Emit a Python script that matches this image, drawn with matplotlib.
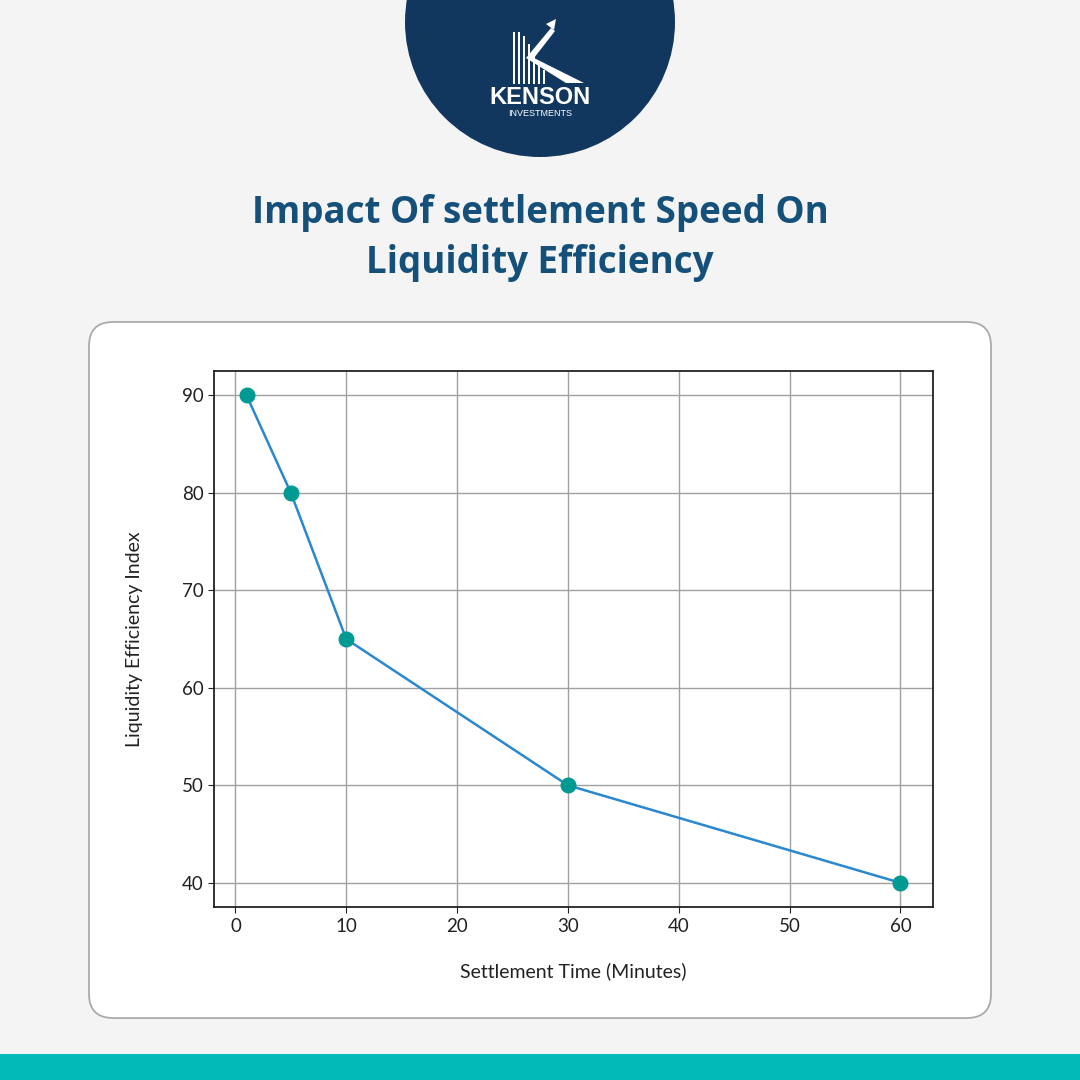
import numpy as np
import matplotlib.pyplot as plt
from matplotlib.patches import FancyBboxPatch, Circle, Rectangle, Polygon

settle_time = [1, 5, 10, 30, 60]
liquidity_index = [90, 80, 65, 50, 40]
x_ticks = [0, 10, 20, 30, 40, 50, 60]
y_ticks = [40, 50, 60, 70, 80, 90]

title_text = 'Impact Of settlement Speed On\nLiquidity Efficiency'
x_label = 'Settlement Time (Minutes)'
y_label = 'Liquidity Efficiency Index'

plt.rcParams['font.family'] = ['Lato', 'DejaVu Sans']

fig = plt.figure(figsize=(10.8, 10.8), dpi=100)
fig.patch.set_facecolor('#f4f4f4')

# background layer in pixel-like coords
bg = fig.add_axes([0, 0, 1, 1])
bg.set_xlim(0, 1080)
bg.set_ylim(1080, 0)
bg.axis('off')

# white card
card = FancyBboxPatch((89, 322), 902, 696, boxstyle='round,pad=0,rounding_size=24',
                      facecolor='white', edgecolor='#aaaaaa', linewidth=1.3)
bg.add_patch(card)

# teal strip at the bottom
bg.add_patch(Rectangle((0, 1054), 1080, 26, facecolor='#00bbb8', edgecolor='none'))

# logo circle
bg.add_patch(Circle((540, 22), 135, facecolor='#12375f', edgecolor='none'))
for i, h in enumerate([52, 52, 48, 40, 30, 22, 14]):
    bg.add_patch(Rectangle((513 + i * 5.0, 84 - h), 2.4, h, facecolor='white', edgecolor='none'))
bg.add_patch(Polygon([[526, 58], [551, 28], [555, 31], [534, 58], [584, 83], [566, 83]],
                     closed=True, facecolor='white', edgecolor='none'))
bg.add_patch(Polygon([[546, 24], [556, 19], [554, 30]], closed=True, facecolor='white', edgecolor='none'))
bg.text(540, 97, 'KENSON', color='white', fontsize=17, fontweight='bold',
        ha='center', va='center', family=['Liberation Sans', 'DejaVu Sans'])
bg.text(540, 113, 'INVESTMENTS', color='white', fontsize=6.5,
        ha='center', va='center', family=['Liberation Sans', 'DejaVu Sans'])

# title
bg.text(540, 238, title_text, color='#15507a', fontsize=26.5, fontweight='bold',
        ha='center', va='center', linespacing=1.38, family=['Open Sans', 'DejaVu Sans'])

# chart
ax = fig.add_axes([0.198, 0.160, 0.666, 0.4965])
ax.set_facecolor('white')
ax.plot(settle_time, liquidity_index, color='#2a88d0', linewidth=1.8, zorder=3)
ax.plot(settle_time, liquidity_index, 'o', color='#009a93', markersize=10.5, zorder=4)
ax.set_xticks(x_ticks)
ax.set_yticks(y_ticks)
ax.grid(True, color='#a0a0a0', linewidth=1.0)
ax.set_axisbelow(True)
for s in ax.spines.values():
    s.set_color('#222222')
    s.set_linewidth(1.3)
ax.tick_params(labelsize=13.5, colors='#222222', length=4)
ax.set_xlabel(x_label, fontsize=14, color='#222222', labelpad=20)
ax.set_ylabel(y_label, fontsize=14, color='#222222', labelpad=28)

fig.savefig('out.png', dpi=100, facecolor=fig.get_facecolor())
